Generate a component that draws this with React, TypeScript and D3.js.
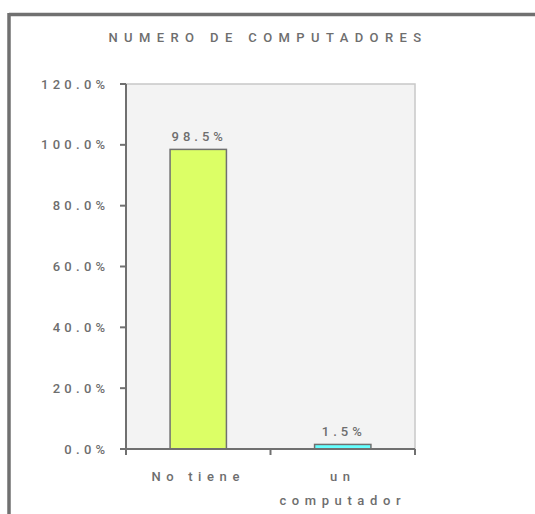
import { useEffect, useRef } from 'react'
import * as d3 from 'd3'

const categories = ['No tiene', 'un computador']
const values = [98.5, 1.5]
const barColors = ['#dcff66', '#66ffff']
const yTicks = [0, 20, 40, 60, 80, 100, 120]
const title = 'NUMERO DE COMPUTADORES'

const W = 535
const H = 514
const FONT = 'Roboto, Liberation Sans, Arial, sans-serif'
const TEXT = '#6e6e6e'
const AXIS = '#707070'

export default function App() {
  const svgRef = useRef<SVGSVGElement>(null)

  useEffect(() => {
    if (!svgRef.current) return
    const svg = d3.select(svgRef.current)
    svg.selectAll('*').remove()

    const plot = { left: 126, right: 415, top: 84, bottom: 449 }

    const x = d3.scaleBand<string>()
      .domain(categories)
      .range([plot.left, plot.right])
      .padding(0)

    const y = d3.scaleLinear()
      .domain([0, 120])
      .range([plot.bottom, plot.top])

    const label = (sel: any, ls: number) =>
      sel.attr('fill', TEXT)
        .attr('font-family', FONT)
        .attr('font-weight', 500)
        .attr('font-size', 13)
        .attr('letter-spacing', ls)

    // outer frame, only left and top edges show on the page
    svg.append('line')
      .attr('x1', 9).attr('x2', W)
      .attr('y1', 14.5).attr('y2', 14.5)
      .attr('stroke', AXIS).attr('stroke-width', 3.5)
    svg.append('line')
      .attr('x1', 9).attr('x2', 9)
      .attr('y1', 13).attr('y2', H)
      .attr('stroke', AXIS).attr('stroke-width', 3.5)

    // title
    label(svg.append('text'), 6.4)
      .attr('x', 268)
      .attr('y', 42)
      .attr('text-anchor', 'middle')
      .text(title)

    // plot background
    svg.append('rect')
      .attr('x', plot.left)
      .attr('y', plot.top)
      .attr('width', plot.right - plot.left)
      .attr('height', plot.bottom - plot.top)
      .attr('fill', '#f3f3f3')
      .attr('stroke', '#c8c8c8')
      .attr('stroke-width', 1.5)

    // bars
    const bw = x.bandwidth() * 0.39
    svg.selectAll('rect.bar')
      .data(categories)
      .enter()
      .append('rect')
      .attr('class', 'bar')
      .attr('x', d => (x(d) ?? 0) + x.bandwidth() / 2 - bw / 2)
      .attr('y', (_d, i) => y(values[i]))
      .attr('width', bw)
      .attr('height', (_d, i) => y(0) - y(values[i]))
      .attr('fill', (_d, i) => barColors[i])
      .attr('stroke', AXIS)
      .attr('stroke-width', 1.5)

    // value labels
    categories.forEach((c, i) => {
      label(svg.append('text'), 4)
        .attr('x', (x(c) ?? 0) + x.bandwidth() / 2 + 1)
        .attr('y', y(values[i]) - 8.5)
        .attr('text-anchor', 'middle')
        .text(`${values[i].toFixed(1)}%`)
    })

    // y axis
    svg.append('line')
      .attr('x1', plot.left).attr('x2', plot.left)
      .attr('y1', plot.top).attr('y2', plot.bottom)
      .attr('stroke', AXIS).attr('stroke-width', 2)

    yTicks.forEach(t => {
      svg.append('line')
        .attr('x1', plot.left - 6).attr('x2', plot.left)
        .attr('y1', y(t)).attr('y2', y(t))
        .attr('stroke', AXIS).attr('stroke-width', 2)
      label(svg.append('text'), 4.3)
        .attr('x', 109.5)
        .attr('y', y(t) + 4.5)
        .attr('text-anchor', 'end')
        .text(`${t.toFixed(1)}%`)
    })

    // x axis
    svg.append('line')
      .attr('x1', plot.left).attr('x2', plot.right)
      .attr('y1', plot.bottom).attr('y2', plot.bottom)
      .attr('stroke', AXIS).attr('stroke-width', 2)

    const edges = [...categories.map(c => x(c) ?? 0), plot.right]
    edges.forEach(e => {
      svg.append('line')
        .attr('x1', e).attr('x2', e)
        .attr('y1', plot.bottom).attr('y2', plot.bottom + 6)
        .attr('stroke', AXIS).attr('stroke-width', 2)
    })

    // category labels, second one wrapped
    const catLines = [['No tiene'], ['un', 'computador']]
    categories.forEach((c, i) => {
      const t = label(svg.append('text'), 5.6)
        .attr('text-anchor', 'middle')
      catLines[i].forEach((ln, j) => {
        t.append('tspan')
          .attr('x', (x(c) ?? 0) + x.bandwidth() / 2)
          .attr('y', 481 + j * 24)
          .text(ln)
      })
    })
  }, [])

  return (
    <svg
      ref={svgRef}
      width={W}
      height={H}
      style={{ position: 'absolute', left: 0, top: 0, display: 'block' }}
    />
  )
}
